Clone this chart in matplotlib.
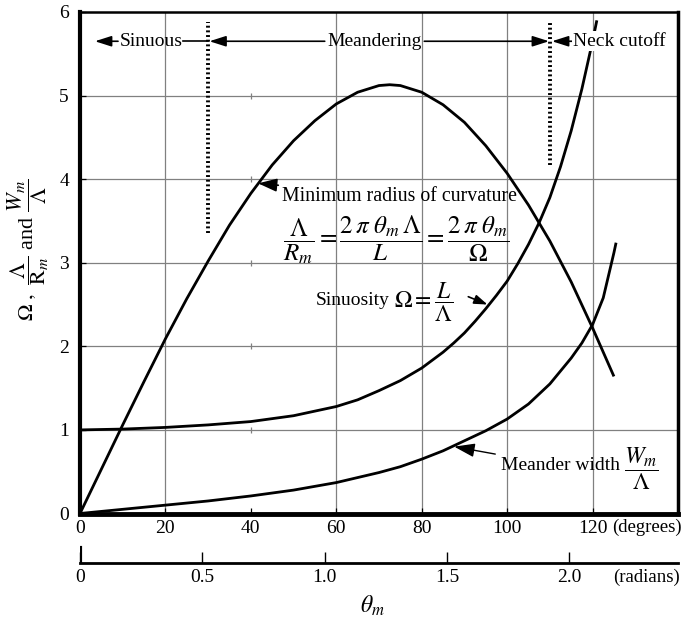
import numpy as np
import matplotlib
matplotlib.use("Agg")
import matplotlib.pyplot as plt

plt.rcParams['font.family'] = ['Liberation Serif', 'DejaVu Serif']
plt.rcParams['mathtext.fontset'] = 'stix'

# Meander angle (degrees) and the three geometric ratios
theta_rc = [0, 5, 10, 15, 20, 25, 30, 35, 40, 45, 50, 55, 60, 65, 70, 72.5, 75,
            80, 85, 90, 95, 100, 105, 110, 115, 120, 125]
radius_curv = [0.0, 0.53, 1.06, 1.58, 2.09, 2.57, 3.02, 3.45, 3.83, 4.17, 4.46,
               4.70, 4.90, 5.04, 5.12, 5.13, 5.12, 5.04, 4.89, 4.68, 4.40, 4.07,
               3.69, 3.26, 2.77, 2.22, 1.64]

theta_sin = [0, 10, 20, 30, 40, 50, 60, 65, 70, 75, 80, 85, 87.5, 90, 92.5, 95,
             97.5, 100, 102.5, 105, 107.5, 110, 112.5, 115, 117.5, 120, 121]
sinuosity = [1.00, 1.01, 1.03, 1.06, 1.10, 1.17, 1.28, 1.36, 1.47, 1.59, 1.74,
             1.93, 2.04, 2.16, 2.30, 2.45, 2.61, 2.78, 2.99, 3.22, 3.48, 3.78,
             4.15, 4.58, 5.08, 5.65, 5.90]

theta_wid = [0, 10, 20, 30, 40, 50, 60, 65, 70, 75, 80, 85, 90, 95, 100, 105,
             110, 115, 117.5, 120, 122.5, 125, 125.5]
width = [0.0, 0.05, 0.10, 0.15, 0.21, 0.28, 0.37, 0.43, 0.49, 0.56, 0.65, 0.75,
         0.87, 0.99, 1.13, 1.31, 1.55, 1.86, 2.04, 2.26, 2.58, 3.12, 3.24]

deg_ticks = [0, 20, 40, 60, 80, 100, 120]
rad_ticks = [0, 0.5, 1.0, 1.5, 2.0]
rad_labels = ['0', '0.5', '1.0', '1.5', '2.0']
y_ticks = [0, 1, 2, 3, 4, 5, 6]

# Regime boundaries (degrees)
sinuous_limit = 30
cutoff_limit = 110

W, H = 693, 619
fig = plt.figure(figsize=(W / 100, H / 100), dpi=100)
x0, x1 = 80, 678
y0, y1 = 513.5, 12
ax = fig.add_axes([x0 / W, 1 - y0 / H, (x1 - x0) / W, (y0 - y1) / H])
ax.set_xlim(0, 140)
ax.set_ylim(0, 6)

grid_kw = dict(color='#808080', lw=0.9, zorder=0)
for yv in [1, 2, 3, 4, 5]:
    ax.axhline(yv, **grid_kw)
for xv in [20, 60, 80, 100, 120]:
    ax.axvline(xv, **grid_kw)
ax.plot([40] * 5, [1, 2, 3, 4, 5], ls='none', marker='|', ms=5, mew=0.9,
        color='#808080', zorder=0)

line_kw = dict(color='black', lw=2.0, zorder=3, solid_capstyle='butt',
               solid_joinstyle='round')
ax.plot(theta_rc, radius_curv, **line_kw)
ax.plot(theta_sin, sinuosity, **line_kw)
ax.plot(theta_wid, width, **line_kw)

# Regime boundaries
ax.plot([sinuous_limit, sinuous_limit], [3.35, 5.88], color='black', lw=2.8,
        ls=(0, (0.5, 0.7)), zorder=4)
ax.plot([cutoff_limit, cutoff_limit], [4.17, 5.88], color='black', lw=2.8,
        ls=(0, (0.5, 0.7)), zorder=4)

for side, lw in [('left', 3.0), ('bottom', 3.5), ('right', 2.5), ('top', 1.8)]:
    ax.spines[side].set_linewidth(lw)

ax.set_xticks(deg_ticks)
ax.set_yticks(y_ticks)
ax.tick_params(direction='in', length=4, width=0.9, labelsize=14, pad=5)
ax.tick_params(axis='y', pad=8)

ax.set_ylabel(r'$\mathit{\Omega}\ ,\ \dfrac{\Lambda}{\mathrm{R}_m}$ and $\dfrac{W_m}{\Lambda}$',
              fontsize=16)
ax.yaxis.set_label_coords(-0.048, 0.525)

ah = dict(arrowstyle='-|>,head_length=1.0,head_width=0.32', color='black',
          lw=1.2, shrinkA=0, shrinkB=0)
yb = 5.65
tkw = dict(fontsize=14, va='center', zorder=6)
ax.text(16.6, yb, 'Sinuous', ha='center', **tkw)
ax.annotate('', xy=(3.5, yb), xytext=(8.9, yb), arrowprops=ah)
ax.plot([24.2, sinuous_limit], [yb, yb], color='black', lw=1.2)
ax.text(68.9, yb, 'Meandering', ha='center', **tkw)
ax.annotate('', xy=(sinuous_limit + 0.3, yb), xytext=(57.3, yb), arrowprops=ah)
ax.annotate('', xy=(cutoff_limit - 0.2, yb), xytext=(80.6, yb), arrowprops=ah)
ax.annotate('', xy=(cutoff_limit + 0.5, yb), xytext=(115.2, yb), arrowprops=ah)
ax.text(115.4, yb, 'Neck cutoff', ha='left',
        bbox=dict(facecolor='white', edgecolor='none', pad=1.0), **tkw)

# Curve labels
small_head = dict(arrowstyle='-|>,head_length=0.8,head_width=0.28',
                  color='black', lw=1.2, shrinkA=1, shrinkB=0)
ax.annotate('Minimum radius of curvature', xy=(41.7, 3.95), xytext=(47.4, 3.79),
            fontsize=14.3, va='center', ha='left', arrowprops=small_head)
ax.text(47.6, 3.28,
        r'$\dfrac{\mathit{\Lambda}}{R_m} = \dfrac{2\,\pi\ \theta_m\,\mathit{\Lambda}}{L}'
        r' = \dfrac{2\,\pi\ \theta_m}{\mathit{\Omega}}$',
        fontsize=18, va='center', ha='left')
ax.text(55.1, 2.55, 'Sinuosity', fontsize=14, va='center', ha='left')
ax.text(73.6, 2.53, r'$\mathit{\Omega} = \dfrac{L}{\mathit{\Lambda}}$',
        fontsize=17, va='center', ha='left')
ax.annotate('', xy=(95.4, 2.5), xytext=(90.6, 2.6), arrowprops=small_head)
ax.annotate('Meander width', xy=(87.6, 0.80),
            xytext=(98.5, 0.57), fontsize=14, va='center', ha='left',
            arrowprops=dict(arrowstyle='-|>,head_length=0.9,head_width=0.3',
                            color='black', lw=1.0, shrinkA=2, shrinkB=0))
ax.text(127.4, 0.54, r'$\dfrac{W_m}{\mathit{\Lambda}}$', fontsize=17,
        va='center', ha='left')

fig.text(612 / W, 1 - 527 / H, '(degrees)', fontsize=13.5, ha='left', va='center')

# Radian scale underneath
ry = 563
ax2 = fig.add_axes([x0 / W, 1 - ry / H, (x1 - x0) / W, 20 / H])
ax2.set_xlim(0, np.deg2rad(140))
ax2.set_ylim(0, 1)
ax2.patch.set_visible(False)
for side in ['left', 'right', 'top']:
    ax2.spines[side].set_visible(False)
ax2.spines['bottom'].set_linewidth(2.0)
ax2.set_yticks([])
ax2.set_xticks(rad_ticks)
ax2.set_xticklabels(rad_labels)
ax2.tick_params(direction='in', length=8, width=1.0, labelsize=14, pad=4)
ax2.axvline(0, ymin=0, ymax=0.75, color='black', lw=3.0)
fig.text(613 / W, 1 - 577 / H, '(radians)', fontsize=13.5, ha='left', va='center')

fig.text(372 / W, 1 - 606 / H, r'$\theta_m$', fontsize=17, ha='center', va='center')

fig.savefig('out.png', dpi=100)
